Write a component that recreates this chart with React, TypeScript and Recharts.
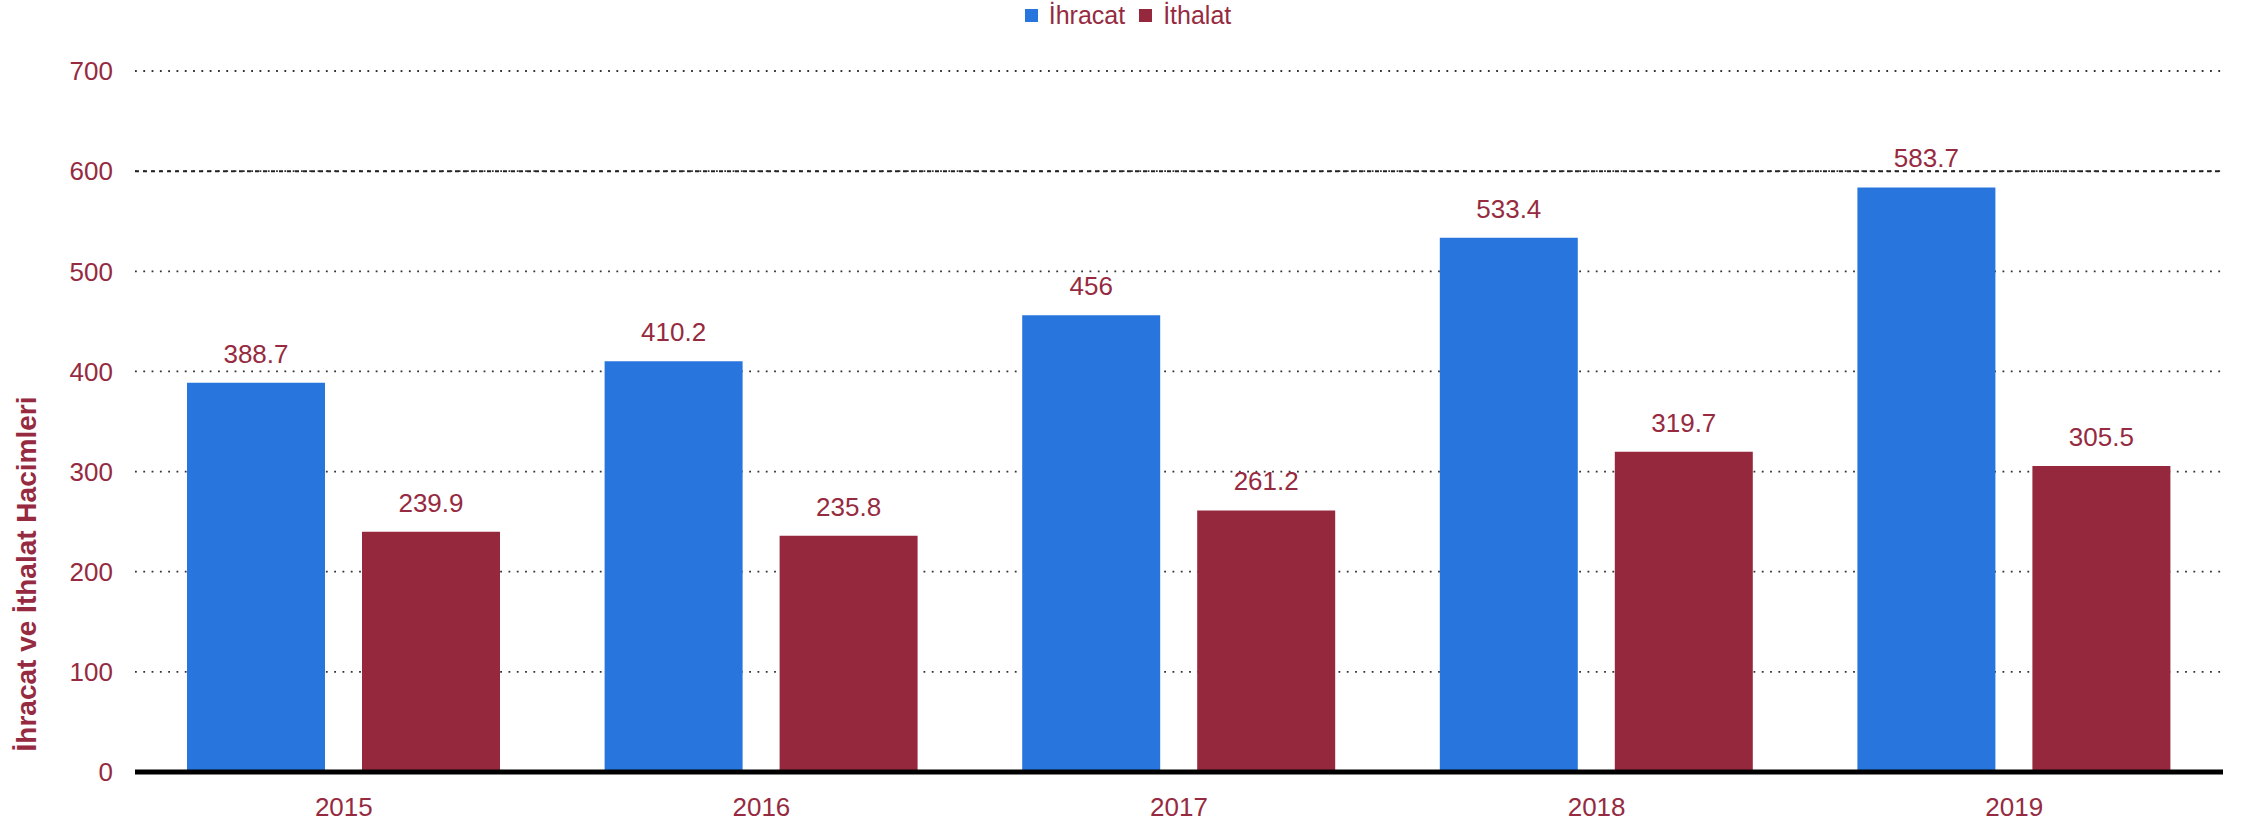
import React from 'react';
import { BarChart, Bar, XAxis, YAxis, CartesianGrid, Legend, LabelList, ReferenceLine } from 'recharts';

const years = ['2015', '2016', '2017', '2018', '2019'];
const ihracat = [388.7, 410.2, 456, 533.4, 583.7];
const ithalat = [239.9, 235.8, 261.2, 319.7, 305.5];
const yTicks = [0, 100, 200, 300, 400, 500, 600, 700];

const BLUE = '#2876dd';
const RED = '#96283e';
const TEXT = '#962a40';
const FONT = '"Liberation Sans", Arial, sans-serif';

const data = years.map((year, i) => ({ year, ihracat: ihracat[i], ithalat: ithalat[i] }));

const series = [
  { key: 'ihracat', name: 'İhracat', color: BLUE },
  { key: 'ithalat', name: 'İthalat', color: RED },
];

const LegendContent = () => (
  <div style={{ width: 2256, height: 30, display: 'flex', justifyContent: 'center', alignItems: 'center', fontFamily: FONT, fontSize: 25, color: TEXT }}>
    {series.map((s) => (
      <div key={s.key} style={{ display: 'flex', alignItems: 'center', margin: '0 7px' }}>
        <span style={{ display: 'inline-block', width: 13, height: 13, background: s.color, marginRight: 11 }} />
        <span>{s.name}</span>
      </div>
    ))}
  </div>
);

const YLabel = (props: any) => {
  const vb = props.viewBox;
  const x = vb.x + 26;
  const y = vb.y + vb.height - 198;
  return (
    <text x={x} y={y} transform={`rotate(-90 ${x} ${y})`} textAnchor="middle" dominantBaseline="central"
      fill={TEXT} fontFamily={FONT} fontSize={28} fontWeight="bold">
      İhracat ve İthalat Hacimleri
    </text>
  );
};

export default function App() {
  return (
    <div style={{ position: 'absolute', left: 0, top: 0, background: '#fff' }}>
      <BarChart width={2256} height={824} data={data} barSize={138} barGap={37}
        margin={{ top: 41, right: 33, bottom: 22, left: 0 }}>
        <CartesianGrid vertical={false} stroke="#333" strokeWidth={1.8} strokeDasharray="1.8 6.5" />
        <Legend verticalAlign="top" align="center" content={<LegendContent />}
          wrapperStyle={{ left: 0, top: 0, width: 2256, height: 30 }} />
        <XAxis dataKey="year" axisLine={{ stroke: '#000', strokeWidth: 5 }} tickLine={false} tickMargin={20}
          tick={{ fill: TEXT, fontSize: 26, fontFamily: FONT }} />
        <YAxis width={135} domain={[0, 700]} ticks={yTicks} axisLine={false} tickLine={false} tickMargin={16}
          tick={{ fill: TEXT, fontSize: 26, fontFamily: FONT }} label={<YLabel />} />
        <ReferenceLine y={600} stroke="#222" strokeWidth={2} strokeDasharray="4 4" />
        {series.map((s) => (
          <Bar key={s.key} dataKey={s.key} name={s.name} fill={s.color} isAnimationActive={false}>
            <LabelList dataKey={s.key} position="top" offset={20} fill={TEXT} fontSize={26} fontFamily={FONT} />
          </Bar>
        ))}
      </BarChart>
    </div>
  );
}
